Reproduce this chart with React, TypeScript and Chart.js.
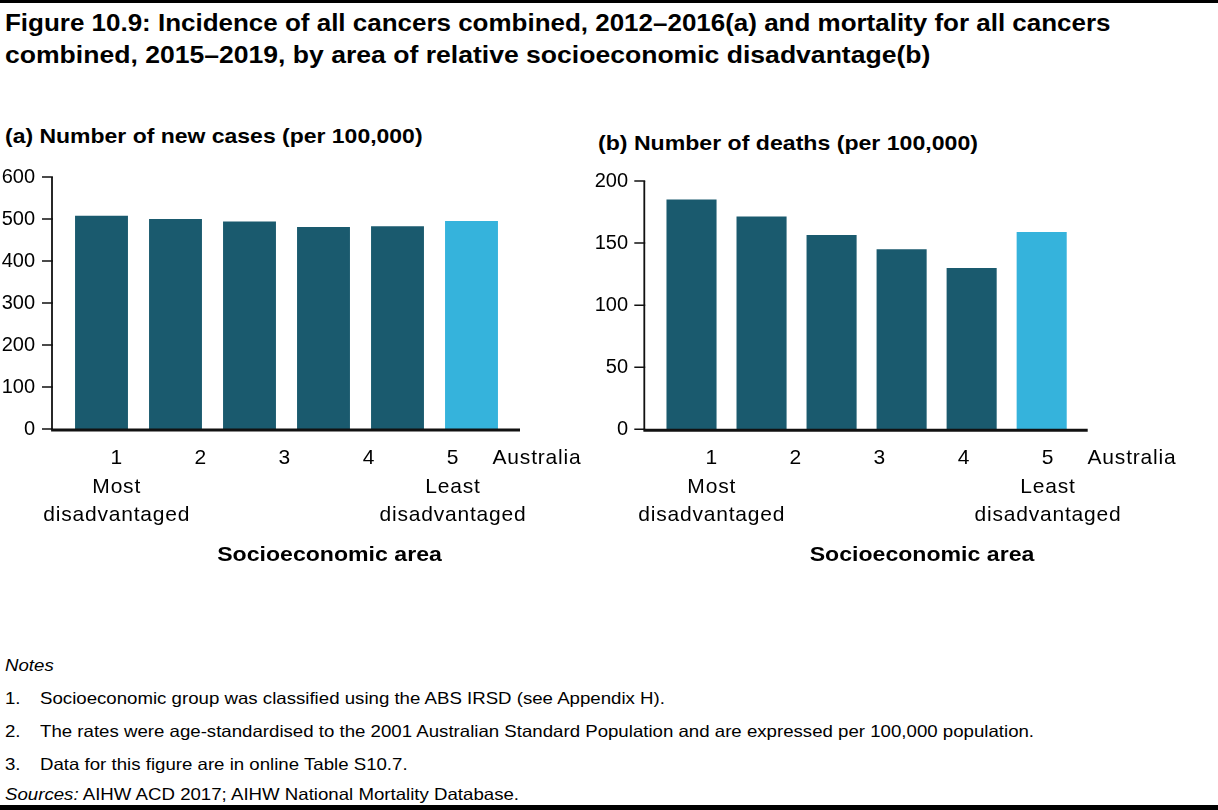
import React, { useEffect, useRef } from "react";
import { Chart, registerables } from "chart.js";

Chart.register(...registerables);

// ---------- data ----------
const categories = ["1", "2", "3", "4", "5", "Australia"];
const categoryLabels: string[][] = [
  ["1", "Most", "disadvantaged"],
  ["2"],
  ["3"],
  ["4"],
  ["5", "Least", "disadvantaged"],
  ["Australia"],
];
const incidence = [508, 500, 494, 481, 483, 495];
const mortality = [185, 171.5, 156.5, 145, 130, 159];
const incidenceTicks = [0, 100, 200, 300, 400, 500, 600];
const mortalityTicks = [0, 50, 100, 150, 200];
const barColors = ["#1a5a6e", "#1a5a6e", "#1a5a6e", "#1a5a6e", "#1a5a6e", "#35b3dc"];

const titleText = [
  "Figure 10.9: Incidence of all cancers combined, 2012–2016(a) and mortality for all cancers",
  "combined, 2015–2019, by area of relative socioeconomic disadvantage(b)",
];
const panelTitles = ["(a) Number of new cases (per 100,000)", "(b) Number of deaths (per 100,000)"];
const axisTitle = "Socioeconomic area";
const notes = [
  "Socioeconomic group was classified using the ABS IRSD (see Appendix H).",
  "The rates were age-standardised to the 2001 Australian Standard Population and are expressed per 100,000 population.",
  "Data for this figure are in online Table S10.7.",
];
const sourcesText = "AIHW ACD 2017; AIHW National Mortality Database.";

const FONT = "'Liberation Sans', Arial, Helvetica, sans-serif";

const axisPlugin = {
  id: "customAxes",
  afterLayout(chart: any) {
    const s = chart.scales.x2;
    if (s && !s.__spaced) {
      const orig = s.drawLabels.bind(s);
      s.drawLabels = (area: any) => {
        const ctx = chart.ctx;
        ctx.save();
        try {
          (ctx as any).letterSpacing = "0.8px";
        } catch (e) {}
        orig(area);
        ctx.restore();
      };
      s.__spaced = true;
    }
  },
  afterDatasetsDraw(chart: any, _args: any, opts: any) {
    const { ctx, chartArea, scales } = chart;
    const y = scales.y;
    const ax = chartArea.left - opts.gapLeft;
    const xr = chartArea.right + opts.gapRight;
    const y0 = y.getPixelForValue(y.min);
    const yTop = y.getPixelForValue(y.max);
    ctx.save();
    ctx.strokeStyle = "#111";
    ctx.lineWidth = 1.8;
    ctx.beginPath();
    ctx.moveTo(ax, yTop);
    ctx.lineTo(ax, y0 + 1);
    ctx.stroke();
    ctx.lineWidth = 1.5;
    ctx.beginPath();
    y.ticks.forEach((t: any) => {
      const py = y.getPixelForValue(t.value);
      ctx.moveTo(ax - 10, py);
      ctx.lineTo(ax + 0.9, py);
    });
    ctx.stroke();
    ctx.lineWidth = 3;
    ctx.beginPath();
    ctx.moveTo(ax - 0.9, y0 + 1);
    ctx.lineTo(xr, y0 + 1);
    ctx.stroke();
    ctx.restore();
  },
};

type PanelProps = {
  values: number[];
  ticks: number[];
  left: number;
  top: number;
  width: number;
  height: number;
  plotLeft: number;
  plotRight: number;
  plotTop: number;
  plotBottom: number;
  tickPad: number;
  labelMin: number;
  labelMax: number;
  gapLeft: number;
  gapRight: number;
};

function BarPanel(p: PanelProps) {
  const ref = useRef<HTMLCanvasElement | null>(null);
  useEffect(() => {
    if (!ref.current) return;
    const chart = new Chart(ref.current, {
      type: "bar",
      data: {
        labels: categories,
        datasets: [
          {
            data: p.values,
            backgroundColor: barColors,
            borderWidth: 0,
            categoryPercentage: 1,
            barPercentage: 0.715,
            xAxisID: "x",
            yAxisID: "y",
          },
        ],
      },
      options: {
        animation: false,
        responsive: false,
        maintainAspectRatio: false,
        devicePixelRatio: 1,
        events: [],
        layout: {
          padding: { left: 0, top: p.plotTop, right: p.width - p.plotRight, bottom: 0 },
        },
        plugins: {
          legend: { display: false },
          tooltip: { enabled: false },
          title: { display: false },
          customAxes: { gapLeft: p.gapLeft, gapRight: p.gapRight },
        } as any,
        scales: {
          x: {
            type: "category",
            display: false,
            offset: true,
          },
          x2: {
            type: "linear",
            position: "bottom",
            offset: false,
            bounds: "data",
            min: p.labelMin,
            max: p.labelMax,
            grid: { display: false, drawTicks: false, offset: false },
            border: { display: false },
            afterBuildTicks: (s: any) => {
              s.ticks = categories.map((_, i) => ({ value: i + 1 }));
            },
            afterFit: (s: any) => {
              s.height = p.height - p.plotBottom;
              s.paddingLeft = 0;
              s.paddingRight = 0;
            },
            ticks: {
              autoSkip: false,
              maxRotation: 0,
              minRotation: 0,
              padding: 15,
              color: "#000",
              font: { family: FONT, size: 21, lineHeight: 1.357 },
              callback: (v: any) => categoryLabels[Math.round(Number(v)) - 1] ?? "",
            },
          },
          y: {
            type: "linear",
            min: p.ticks[0],
            max: p.ticks[p.ticks.length - 1],
            grid: { display: false, drawTicks: false },
            border: { display: false },
            afterBuildTicks: (s: any) => {
              s.ticks = p.ticks.map((v) => ({ value: v }));
            },
            afterFit: (s: any) => {
              s.width = p.plotLeft;
              s.paddingTop = 0;
              s.paddingBottom = 0;
            },
            ticks: {
              padding: p.tickPad,
              color: "#000",
              font: { family: FONT, size: 20, lineHeight: 1.2 },
            },
          },
        } as any,
      },
      plugins: [axisPlugin as any],
    });
    return () => chart.destroy();
  }, []);
  return (
    <canvas
      ref={ref}
      width={p.width}
      height={p.height}
      style={{ position: "absolute", left: p.left, top: p.top, width: p.width, height: p.height }}
    />
  );
}

const txt = (
  left: number,
  top: number,
  size: number,
  sx: number,
  extra: React.CSSProperties = {}
): React.CSSProperties => ({
  position: "absolute",
  left,
  top,
  whiteSpace: "nowrap",
  fontSize: size,
  transform: `scaleX(${sx})`,
  transformOrigin: "0 0",
  ...extra,
});

export default function App() {
  const noteBase = 688;
  const noteStep = 33;
  const noteSize = 16.5;
  const noteSx = 1.13;
  return (
    <div
      style={{
        position: "absolute",
        left: 0,
        top: 0,
        width: 1218,
        height: 810,
        background: "#fff",
        overflow: "hidden",
        fontFamily: FONT,
        color: "#000",
      }}
    >
      <div style={{ position: "absolute", left: 0, top: 0, width: 1218, height: 2.5, background: "#000" }} />
      <div style={txt(5, 7, 23.5, 1.105, { fontWeight: "bold", lineHeight: "32px" })}>{titleText[0]}</div>
      <div style={txt(5, 39, 23.5, 1.13, { fontWeight: "bold", lineHeight: "32px" })}>{titleText[1]}</div>
      <div style={txt(5, 123.5, 21, 1.094, { fontWeight: "bold", lineHeight: "24px" })}>{panelTitles[0]}</div>
      <div style={txt(598, 130.5, 21, 1.1, { fontWeight: "bold", lineHeight: "24px" })}>{panelTitles[1]}</div>

      <BarPanel
        values={incidence}
        ticks={incidenceTicks}
        left={0}
        top={160}
        width={590}
        height={410}
        plotLeft={64.5}
        plotRight={508.5}
        plotTop={17}
        plotBottom={269}
        tickPad={29.5}
        labelMin={0.379}
        labelMax={5.661}
        gapLeft={12.5}
        gapRight={11.5}
      />
      <BarPanel
        values={mortality}
        ticks={mortalityTicks}
        left={590}
        top={160}
        width={628}
        height={410}
        plotLeft={66.5}
        plotRight={486.7}
        plotTop={21}
        plotBottom={269.3}
        tickPad={28.5}
        labelMin={0.343}
        labelMax={5.342}
        gapLeft={12.2}
        gapRight={11}
      />

      <div
        style={txt(0, 542, 21, 1.1, {
          width: 659,
          textAlign: "center",
          fontWeight: "bold",
          lineHeight: "24px",
          transformOrigin: "329.5px 0",
        })}
      >
        {axisTitle}
      </div>
      <div
        style={txt(0, 542, 21, 1.1, {
          width: 1844,
          textAlign: "center",
          fontWeight: "bold",
          lineHeight: "24px",
          transformOrigin: "922px 0",
        })}
      >
        {axisTitle}
      </div>

      <div style={txt(5, 654.5, noteSize, noteSx, { fontStyle: "italic", lineHeight: "20px" })}>Notes</div>
      {notes.map((n, i) => (
        <React.Fragment key={i}>
          <div style={txt(5, noteBase + noteStep * i, noteSize, noteSx, { lineHeight: "20px" })}>{`${i + 1}.`}</div>
          <div style={txt(40, noteBase + noteStep * i, noteSize, noteSx, { lineHeight: "20px" })}>{n}</div>
        </React.Fragment>
      ))}
      <div style={txt(5, noteBase + noteStep * 3 - 3, noteSize, noteSx, { lineHeight: "20px" })}>
        <i>Sources:</i> {sourcesText}
      </div>
      <div style={{ position: "absolute", left: 0, top: 805, width: 1218, height: 5, background: "#000" }} />
    </div>
  );
}
